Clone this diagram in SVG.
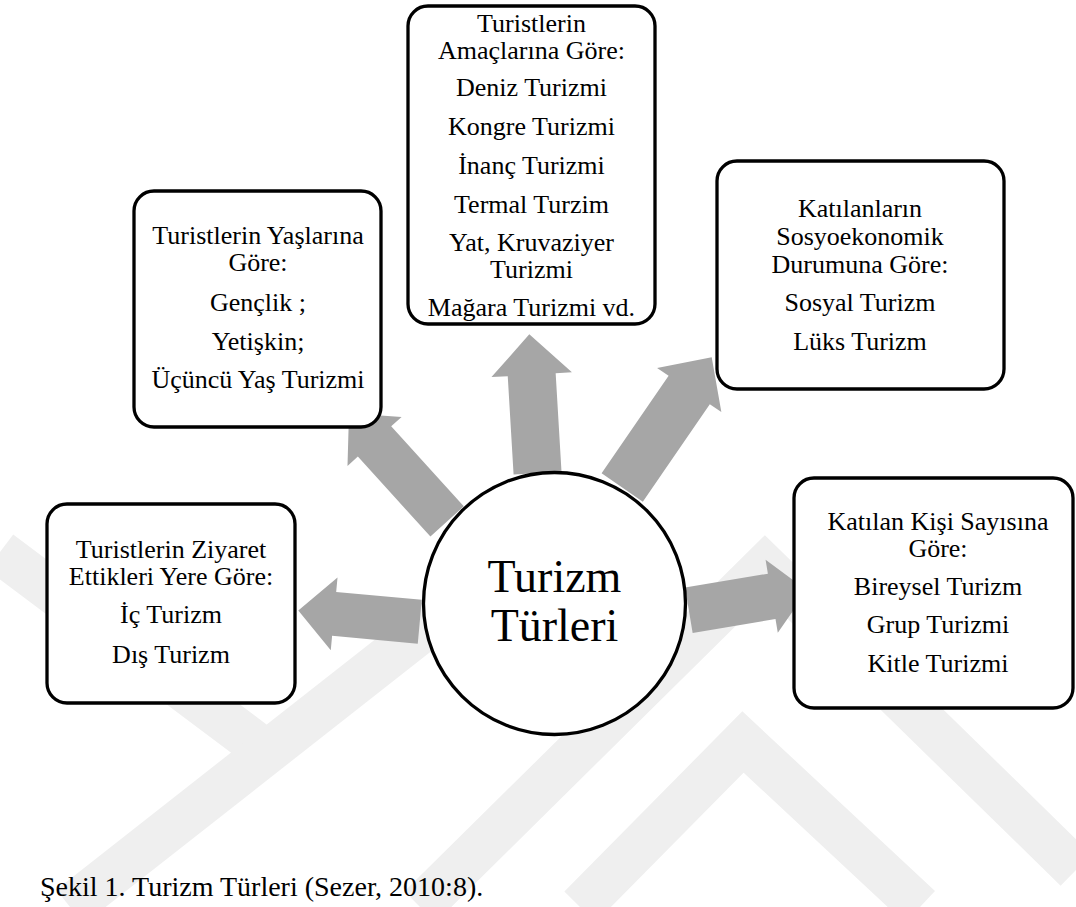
<svg xmlns="http://www.w3.org/2000/svg" width="1076" height="907" viewBox="0 0 1076 907">
<defs>
<style>
.wm{fill:none;stroke:#efefef;stroke-width:44;stroke-linejoin:miter;stroke-linecap:butt}
.arr{fill:#a6a6a6;stroke:none}
.box{fill:#ffffff;stroke:#000000;stroke-width:3.3}
</style>
</defs>
<rect x="0" y="0" width="1076" height="907" fill="#ffffff"/>
<g id="watermark">
<polyline class="wm" points="0,552 256,744"/>
<polyline class="wm" points="70,907 480,585"/>
<polyline class="wm" points="420,907 765,566 1076,870"/>
<polyline class="wm" points="580,907 743,742 920,907"/>
</g>
<g id="connectors">
<polygon class="arr" transform="translate(298.3,610.5) rotate(185.3)" points="0,0 -36,-36.5 -36,-22 -122,-22 -122,22 -36,22 -36,36.5"/>
<polygon class="arr" transform="translate(349,413.3) rotate(227.8)" points="0,0 -38,-36.5 -38,-22.5 -146,-22.5 -146,22.5 -38,22.5 -38,36.5"/>
<polygon class="arr" transform="translate(529.3,334.3) rotate(-93.4)" points="0,0 -40.5,-40.3 -40.5,-24 -139,-24 -139,24 -40.5,24 -40.5,40.3"/>
<polygon class="arr" transform="translate(711.7,357.3) rotate(-55.5)" points="0,0 -39.7,-39 -39.7,-25 -158,-25 -158,25 -39.7,25 -39.7,39"/>
<polygon class="arr" transform="translate(807.2,590.4) rotate(-9.5)" points="0,0 -36,-37 -36,-23 -120,-23 -120,23 -36,23 -36,37"/>
</g>
<g id="node-amac">
<rect class="box" x="408" y="6" width="247" height="318" rx="20" ry="20"/>
<text x="531.5" y="32" text-anchor="middle" style="font-family:&quot;Liberation Serif&quot;,serif;font-size:26px">Turistlerin</text>
<text x="531.5" y="59" text-anchor="middle" style="font-family:&quot;Liberation Serif&quot;,serif;font-size:26px">Amaçlarına Göre:</text>
<text x="531.5" y="96" text-anchor="middle" style="font-family:&quot;Liberation Serif&quot;,serif;font-size:26px">Deniz Turizmi</text>
<text x="531.5" y="135" text-anchor="middle" style="font-family:&quot;Liberation Serif&quot;,serif;font-size:26px">Kongre Turizmi</text>
<text x="531.5" y="174" text-anchor="middle" style="font-family:&quot;Liberation Serif&quot;,serif;font-size:26px">İnanç Turizmi</text>
<text x="531.5" y="213" text-anchor="middle" style="font-family:&quot;Liberation Serif&quot;,serif;font-size:26px">Termal Turzim</text>
<text x="531.5" y="251" text-anchor="middle" style="font-family:&quot;Liberation Serif&quot;,serif;font-size:26px">Yat, Kruvaziyer</text>
<text x="531.5" y="278" text-anchor="middle" style="font-family:&quot;Liberation Serif&quot;,serif;font-size:26px">Turizmi</text>
<text x="531.5" y="316" text-anchor="middle" style="font-family:&quot;Liberation Serif&quot;,serif;font-size:26px">Mağara Turizmi vd.</text>
</g>
<g id="node-yas">
<rect class="box" x="134" y="191" width="247" height="236" rx="20" ry="20"/>
<text x="258" y="244" text-anchor="middle" style="font-family:&quot;Liberation Serif&quot;,serif;font-size:26px">Turistlerin Yaşlarına</text>
<text x="258" y="271" text-anchor="middle" style="font-family:&quot;Liberation Serif&quot;,serif;font-size:26px">Göre:</text>
<text x="258" y="311" text-anchor="middle" style="font-family:&quot;Liberation Serif&quot;,serif;font-size:26px">Gençlik ;</text>
<text x="258" y="350" text-anchor="middle" style="font-family:&quot;Liberation Serif&quot;,serif;font-size:26px">Yetişkin;</text>
<text x="258" y="388" text-anchor="middle" style="font-family:&quot;Liberation Serif&quot;,serif;font-size:26px">Üçüncü Yaş Turizmi</text>
</g>
<g id="node-sosyo">
<rect class="box" x="717" y="161" width="287" height="228" rx="20" ry="20"/>
<text x="860" y="217" text-anchor="middle" style="font-family:&quot;Liberation Serif&quot;,serif;font-size:26px">Katılanların</text>
<text x="860" y="245" text-anchor="middle" style="font-family:&quot;Liberation Serif&quot;,serif;font-size:26px">Sosyoekonomik</text>
<text x="860" y="273" text-anchor="middle" style="font-family:&quot;Liberation Serif&quot;,serif;font-size:26px">Durumuna Göre:</text>
<text x="860" y="311" text-anchor="middle" style="font-family:&quot;Liberation Serif&quot;,serif;font-size:26px">Sosyal Turizm</text>
<text x="860" y="350" text-anchor="middle" style="font-family:&quot;Liberation Serif&quot;,serif;font-size:26px">Lüks Turizm</text>
</g>
<g id="node-ziyaret">
<rect class="box" x="47" y="504" width="248" height="199" rx="20" ry="20"/>
<text x="171" y="558" text-anchor="middle" style="font-family:&quot;Liberation Serif&quot;,serif;font-size:26px">Turistlerin Ziyaret</text>
<text x="171" y="585" text-anchor="middle" style="font-family:&quot;Liberation Serif&quot;,serif;font-size:26px">Ettikleri Yere Göre:</text>
<text x="171" y="623" text-anchor="middle" style="font-family:&quot;Liberation Serif&quot;,serif;font-size:26px">İç Turizm</text>
<text x="171" y="663" text-anchor="middle" style="font-family:&quot;Liberation Serif&quot;,serif;font-size:26px">Dış Turizm</text>
</g>
<g id="node-kisi">
<rect class="box" x="794" y="478" width="279" height="230" rx="20" ry="20"/>
<text x="938" y="530" text-anchor="middle" style="font-family:&quot;Liberation Serif&quot;,serif;font-size:26px">Katılan Kişi Sayısına</text>
<text x="938" y="557" text-anchor="middle" style="font-family:&quot;Liberation Serif&quot;,serif;font-size:26px">Göre:</text>
<text x="938" y="595" text-anchor="middle" style="font-family:&quot;Liberation Serif&quot;,serif;font-size:26px">Bireysel Turizm</text>
<text x="938" y="633" text-anchor="middle" style="font-family:&quot;Liberation Serif&quot;,serif;font-size:26px">Grup Turizmi</text>
<text x="938" y="672" text-anchor="middle" style="font-family:&quot;Liberation Serif&quot;,serif;font-size:26px">Kitle Turizmi</text>
</g>
<g id="node-center">
<circle cx="554.5" cy="603.5" r="131" fill="#ffffff" stroke="#000000" stroke-width="3.3"/>
<text x="554.5" y="592" text-anchor="middle" style="font-family:&quot;Liberation Serif&quot;,serif;font-size:46px">Turizm</text>
<text x="554.5" y="641" text-anchor="middle" style="font-family:&quot;Liberation Serif&quot;,serif;font-size:46px">Türleri</text>
</g>
<g id="caption">
<text x="40" y="896" style="font-family:&quot;Liberation Serif&quot;,serif;font-size:28px">Şekil 1. Turizm Türleri (Sezer, 2010:8).</text>
</g>
</svg>
